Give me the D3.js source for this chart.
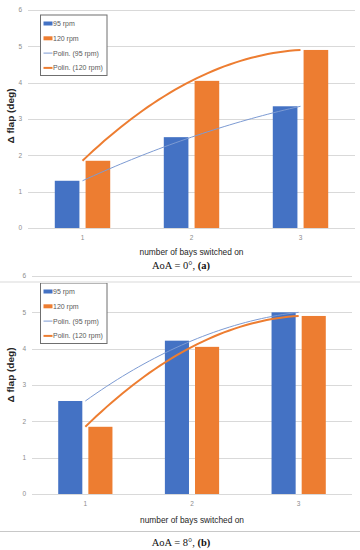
<!DOCTYPE html>
<html>
<head>
<meta charset="utf-8">
<script src="https://cdn.jsdelivr.net/npm/d3@7"></script>
<style>
  body { margin: 0; background: #fff; }
  svg { display: block; }
  .tick-label { font-family: "Liberation Sans Narrow", "Arial Narrow", "Liberation Sans", sans-serif; font-size: 6.5px; fill: #8c8c8c; }
  .legend-label { font-family: "Liberation Sans Narrow", "Arial Narrow", "Liberation Sans", sans-serif; font-size: 7px; fill: #595959; }
  .axis-title { font-family: "Liberation Sans Narrow", "Arial Narrow", "Liberation Sans", sans-serif; font-size: 9.5px; fill: #262626; }
  .y-title { font-family: "Liberation Sans Narrow", "Arial Narrow", "Liberation Sans", sans-serif; font-size: 9.5px; font-weight: bold; fill: #262626; }
  .caption { font-family: "Liberation Serif", "Times New Roman", serif; font-size: 10.5px; fill: #111; }
</style>
</head>
<body>
<div class="chart"></div>
<script>
// DATA
const categories = ["1", "2", "3"];
const seriesNames = ["95 rpm", "120 rpm"];
const trendNames = ["Polin. (95 rpm)", "Polin. (120 rpm)"];
const yTicks = [0, 1, 2, 3, 4, 5, 6];

// AoA = 0°
const rpm95_a = [1.30, 2.50, 3.35];
const rpm120_a = [1.85, 4.05, 4.90];

// AoA = 8°
const rpm95_b = [2.56, 4.22, 5.00];
const rpm120_b = [1.85, 4.05, 4.90];

const colors = ["#4472C4", "#ED7D31"];

// Setup
const svg = d3.select(".chart")
  .append("svg")
  .attr("width", 360)
  .attr("height", 550);

drawPanel(svg, {
  values: [rpm95_a, rpm120_a],
  left: 28, right: 355, top: 10, bottom: 228,
  legendX: 40.5, legendY: 15,
  titleY: 255, captionLabel: "AoA = 0°, ", captionTag: "(a)", captionY: 269,
  yTitleY: 116
});

drawPanel(svg, {
  values: [rpm95_b, rpm120_b],
  left: 32, right: 352, top: 276, bottom: 494,
  legendX: 40.5, legendY: 283,
  titleY: 523, captionLabel: "AoA = 8°, ", captionTag: "(b)", captionY: 546,
  yTitleY: 375
});

// separators
svg.append("line")
  .attr("x1", 0).attr("x2", 360)
  .attr("y1", 282).attr("y2", 282)
  .attr("stroke", "#ececec").attr("stroke-width", 2);

svg.append("line")
  .attr("x1", 0).attr("x2", 360)
  .attr("y1", 531.5).attr("y2", 531.5)
  .attr("stroke", "#c8c8c8").attr("stroke-width", 1);


// PANEL
function drawPanel(svg, o) {
  const g = svg.append("g");

  const x0 = d3.scaleBand()
    .domain(categories)
    .range([o.left, o.right])
    .padding(0);

  const x1 = d3.scaleBand()
    .domain(seriesNames)
    .range([0, x0.bandwidth()])
    .paddingInner(0.2)
    .paddingOuter(0.87);

  const y = d3.scaleLinear()
    .domain([0, 6])
    .range([o.bottom, o.top]);

  // grid
  g.selectAll(".grid")
    .data(yTicks)
    .enter()
    .append("line")
    .attr("x1", o.left).attr("x2", o.right)
    .attr("y1", d => Math.round(y(d)) + 0.5)
    .attr("y2", d => Math.round(y(d)) + 0.5)
    .attr("stroke", "#d9d9d9")
    .attr("stroke-width", 1);

  g.selectAll(".ytick")
    .data(yTicks)
    .enter()
    .append("text")
    .attr("class", "tick-label")
    .attr("x", o.left - 6)
    .attr("y", d => y(d))
    .attr("dy", "0.35em")
    .attr("text-anchor", "end")
    .text(d => d);

  g.selectAll(".xtick")
    .data(categories)
    .enter()
    .append("text")
    .attr("class", "tick-label")
    .attr("x", d => x0(d) + x0.bandwidth() / 2)
    .attr("y", o.bottom + 12)
    .attr("text-anchor", "middle")
    .text(d => d);

  // bars
  const groups = g.selectAll(".cat")
    .data(categories)
    .enter()
    .append("g")
    .attr("transform", d => `translate(${x0(d)},0)`);

  groups.selectAll("rect")
    .data((d, i) => seriesNames.map((s, j) => ({ s, j, v: o.values[j][i] })))
    .enter()
    .append("rect")
    .attr("x", d => x1(d.s))
    .attr("width", x1.bandwidth())
    .attr("y", d => y(d.v))
    .attr("height", d => y(0) - y(d.v))
    .attr("fill", d => colors[d.j]);

  // polynomial trendlines (order 2)
  const xc = d3.scaleLinear()
    .domain([1, 3])
    .range([x0("1") + x0.bandwidth() / 2, x0("3") + x0.bandwidth() / 2]);

  const line = d3.line()
    .x(d => xc(d[0]))
    .y(d => y(d[1]));

  o.values.forEach((vals, j) => {
    const coef = polyFit(vals);
    const pts = d3.range(1, 3.0001, 0.05).map(t => [t, coef[0] + coef[1] * t + coef[2] * t * t]);
    g.append("path")
      .attr("d", line(pts))
      .attr("fill", "none")
      .attr("stroke", j === 0 ? "#7d9bd3" : colors[1])
      .attr("stroke-width", j === 0 ? 1 : 2);
  });

  // axis title
  g.append("text")
    .attr("class", "axis-title")
    .attr("x", (o.left + o.right) / 2)
    .attr("y", o.titleY)
    .attr("text-anchor", "middle")
    .attr("textLength", 104)
    .attr("lengthAdjust", "spacingAndGlyphs")
    .text("number of bays switched on");

  g.append("text")
    .attr("class", "y-title")
    .attr("transform", `translate(14,${o.yTitleY}) rotate(-90)`)
    .attr("text-anchor", "middle")
    .attr("textLength", 55)
    .attr("lengthAdjust", "spacingAndGlyphs")
    .text("Δ flap (deg)");

  const cap = g.append("text")
    .attr("class", "caption")
    .attr("x", 181)
    .attr("y", o.captionY)
    .attr("text-anchor", "middle");
  cap.append("tspan").text(o.captionLabel);
  cap.append("tspan").attr("font-weight", "bold").text(o.captionTag);

  addLegend(g, o.legendX, o.legendY);
}

function addLegend(g, lx, ly) {
  const legend = g.append("g")
    .attr("class", "legend")
    .attr("transform", `translate(${lx},${ly})`);

  legend.append("rect")
    .attr("width", 66.5)
    .attr("height", 60.5)
    .attr("fill", "#fff")
    .attr("stroke", "#6f6f6f")
    .attr("stroke-width", 1);

  const items = seriesNames.concat(trendNames);
  const rowY = (d, i) => 8.5 + i * 14.8;

  legend.selectAll(".legend-label")
    .data(items)
    .enter()
    .append("text")
    .attr("class", "legend-label")
    .attr("x", 12.5)
    .attr("y", rowY)
    .attr("dy", "0.35em")
    .text(d => d);

  legend.selectAll(".swatch")
    .data(seriesNames)
    .enter()
    .append("rect")
    .attr("x", 3)
    .attr("y", (d, i) => rowY(d, i) - 2)
    .attr("width", 9)
    .attr("height", 4)
    .attr("fill", (d, i) => colors[i]);

  legend.selectAll(".trend-swatch")
    .data(trendNames)
    .enter()
    .append("line")
    .attr("x1", 3).attr("x2", 12)
    .attr("y1", (d, i) => rowY(d, i + 2))
    .attr("y2", (d, i) => rowY(d, i + 2))
    .attr("stroke", (d, i) => i === 0 ? "#7d9bd3" : colors[1])
    .attr("stroke-width", (d, i) => i === 0 ? 1 : 2);
}

// least squares fit of degree 2 on x = 1..n
function polyFit(vals) {
  const xs = vals.map((v, i) => i + 1);
  const S = k => d3.sum(xs, x => Math.pow(x, k));
  const T = k => d3.sum(xs, (x, i) => Math.pow(x, k) * vals[i]);
  const A = [[S(0), S(1), S(2)], [S(1), S(2), S(3)], [S(2), S(3), S(4)]];
  const b = [T(0), T(1), T(2)];
  // gaussian elimination
  for (let c = 0; c < 3; c++) {
    for (let r = c + 1; r < 3; r++) {
      const f = A[r][c] / A[c][c];
      for (let k = c; k < 3; k++) A[r][k] -= f * A[c][k];
      b[r] -= f * b[c];
    }
  }
  const out = [0, 0, 0];
  for (let r = 2; r >= 0; r--) {
    let s = b[r];
    for (let k = r + 1; k < 3; k++) s -= A[r][k] * out[k];
    out[r] = s / A[r][r];
  }
  return out;
}
</script>
</body>
</html>
